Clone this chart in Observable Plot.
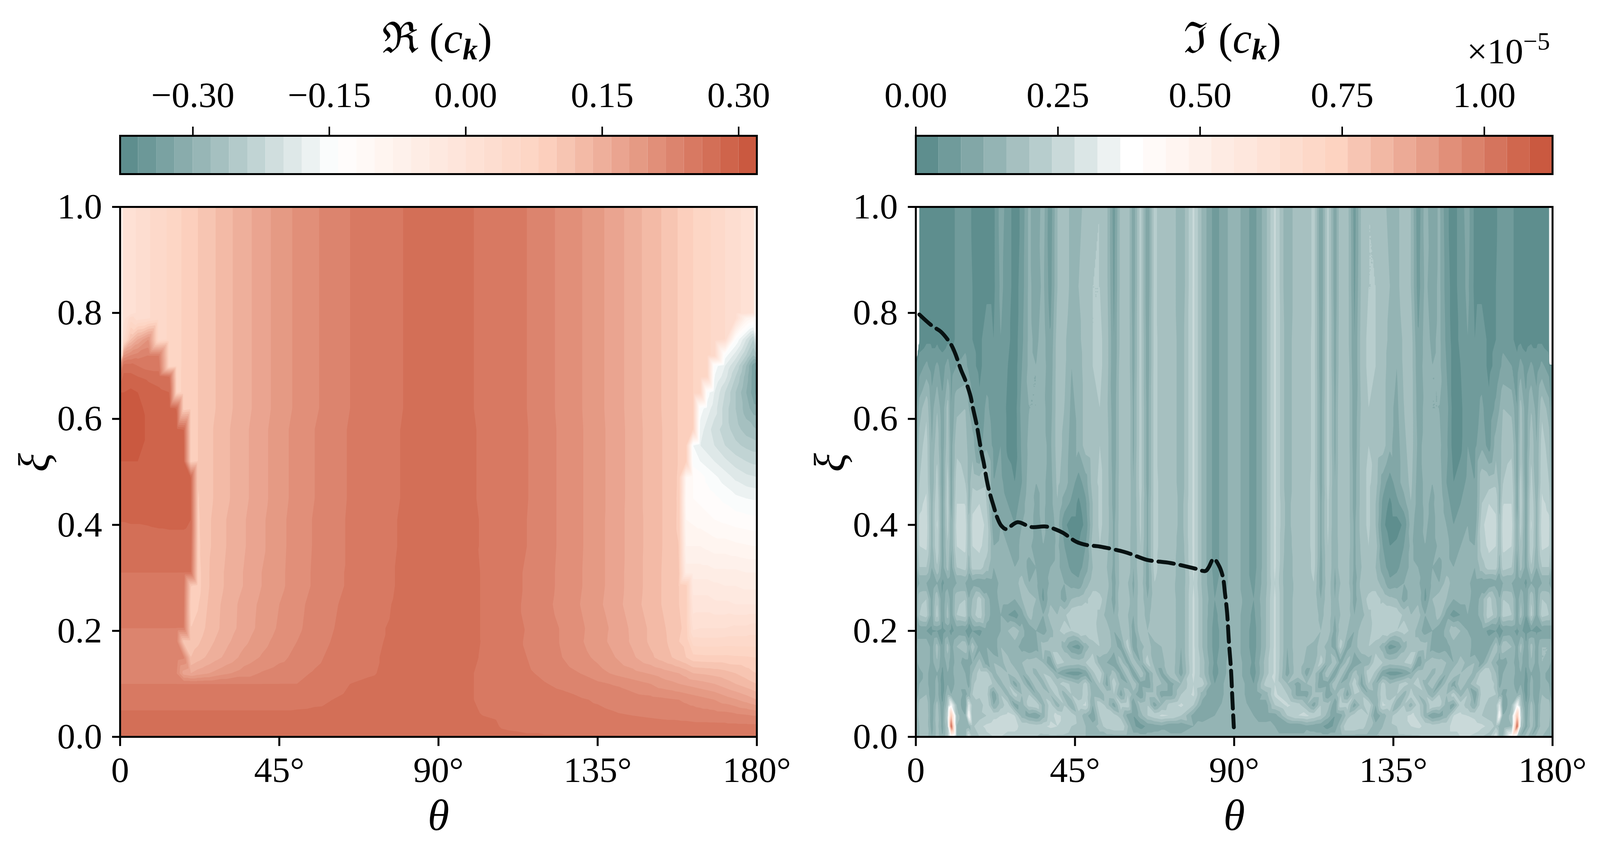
<!DOCTYPE html>
<html>
<head>
<meta charset="utf-8">
<script src="https://cdn.jsdelivr.net/npm/d3@7"></script>
<script src="https://cdn.jsdelivr.net/npm/@observablehq/plot@0.6"></script>
<style>
  body { margin: 0; background: white; }
  /* the browser window comes out 4096 wide, so the layout is fitted to that */
  #page { position: relative; width: 4096px; height: 2216px; overflow: hidden; font-family: "Liberation Serif", serif; color: black; }
  #page svg { position: absolute; top: 0; }
  .lab { position: absolute; line-height: 1; white-space: nowrap; }
  .mid { transform: translateX(-50%); }
  .lab sub { font-size: 0.7em; line-height: 0; vertical-align: -0.22em; }
  .lab sup { font-size: 0.7em; line-height: 0; vertical-align: 0.55em; }
</style>
</head>
<body>
<div id="page">
  <div class="lab mid" style="left:1119px;top:43px;font-size:110px">ℜ (<i>c</i><sub><b><i>k</i></b></sub>)</div>
  <div class="lab mid" style="left:3155px;top:43px;font-size:110px">ℑ (<i>c</i><sub><b><i>k</i></b></sub>)</div>
  <div class="lab" style="right:128px;top:85px;font-size:92px">×10<sup>−5</sup></div>
</div>
<script>
// colorbar levels, in hundredths (imag part: hundredths of 1e-5)
const realLevels = [-38,-36,-34,-32,-30,-28,-26,-24,-22,-20,-18,-16,-14,-12,-10,-8,-6,-4,-2,0,2,4,6,8,10,12,14,16,18,20,22,24,26,28,30,32]
const imagLevels = [0,4,8,12,16,20,24,28,32,36,40,44,48,52,56,60,64,68,72,76,80,84,88,92,96,100,104,108,112]
const realTicks = [-30,-15,0,15,30]
const imagTicks = [0,25,50,75,100]
const thetaTicks = [0,45,90,135,180]
const xiTicks = [0,0.2,0.4,0.6,0.8,1]

const realTheta = [0,1,3,5,8,11,14,16,18,20,22,24,27,30,35,40,45,50,55,60,65,70,80,90,100,110,115,120,125,130,135,140,145,150,153,156,158,160,162,164,166,168,171,174,177,179,180]
const realXi = [1,0.8,0.79,0.75,0.72,0.7,0.68,0.65,0.62,0.58,0.55,0.52,0.49,0.45,0.41,0.36,0.31,0.285,0.25,0.205,0.18,0.15,0.12,0.1,0.07,0.04,0.02,0]
const realRows = [
  [-16,1,1,2.4,3.8,5,6.4,7.4,8.3,9.2,10,10.8,12,13.3,15.2,17,18.9,20.4,21.7,22.9,24,24.7,26,27,26,24.6,24,22.7,21.5,20.2,18.6,17,15,13,12,10.8,9.8,9,8,7.2,6.4,5.6,4,2.8,1.2,0.2,-16],
  [-16,1,1,2.4,3.8,5,6.4,7.4,8.3,9.2,10,10.8,12,13.3,15.2,17,18.9,20.4,21.7,22.9,24,24.7,26,27,26,24.6,24,22.7,21.5,20.2,18.6,17,15,13,12,10.8,9.8,9,8,7.2,6.4,5.6,4,2.8,1.2,0.2,-16],
  [-16,1,5,3,3.8,5,6.4,7.4,8.3,9.2,10,10.8,12,13.3,15.2,17,18.9,20.4,21.7,22.9,24,24.7,26,27,26,24.6,24,22.7,21.5,20.2,18.6,17,15,13,12,10.8,9.8,9,8,7.2,6.4,5.6,4,2.8,-8,-10,-16],
  [-16,4,12,16,20,5,6.4,7.4,8.3,9.2,10,10.8,12,13.3,15.2,17,18.9,20.4,21.7,22.9,24,24.7,26,27,26,24.6,24,22.7,21.5,20.2,18.6,17,15,13,12,10.8,9.8,9,8,7.2,6.4,5.6,4,-14,-20,-24,-18],
  [-16,20,22,23,24,24,6.4,7.4,8.3,9.2,10,10.8,12,13.3,15.2,17,18.9,20.4,21.7,22.9,24,24.7,26,27,26,24.6,24,22.7,21.5,20.2,18.6,17,15,13,12,10.8,9.8,9,8,7.2,6.4,5.6,-15,-19,-24,-28,-26],
  [18,27,27,26,25,25,6.4,7.4,8.3,9.2,10,10.8,12,13.3,15.2,17,18.9,20.4,21.7,22.9,24,24.7,26,27,26,24.6,24,22.7,21.5,20.2,18.6,17,15,13,12,10.8,9.8,9,8,7.2,6.4,-15,-18,-22,-28,-33,-34],
  [26,28.5,28.5,28,27.5,27,26,7.5,8.3,9.2,10,10.8,12,13.3,15.2,17,18.9,20.4,21.7,22.9,24,24.7,26,27,26,24.6,24,22.7,21.5,20.2,18.6,17,15,13,12,10.8,9.8,9,8,7.2,6.4,-16,-19,-24,-29,-33,-35],
  [30,30,30.5,30,29,28.5,28,7.5,8.3,9.2,10,10.8,12,13.3,15.2,17,18.9,20.4,21.7,22.9,24,24.7,26,27,26,24.6,24,22.7,21.5,20.2,18.6,17,15,13,12,10.8,9.8,9,8,7.2,-15,-18,-22,-26,-30,-33,-35],
  [31,31,31,30.5,29.5,29,28.5,28,8.3,9.2,10,10.8,12,13.3,15.2,17,18.9,20.4,21.7,22.9,24,24.7,26,27,26,24.6,24,22.7,21.5,20.2,18.6,17,15,13,12,10.8,9.8,9,8,-15,-17,-19,-23,-26,-29,-31,-31],
  [31.5,31.5,31.5,31,29.5,29,29,28.5,28,9,10,11,12.3,13.6,15.5,17.3,19.2,20.7,22,23.1,24.2,24.9,26.1,27,26.1,24.7,24.1,22.8,21.6,20.3,18.7,17.1,15.1,13.1,12.1,10.9,9.8,9,8,-17,-19,-21,-23,-25,-27,-27.5,-28],
  [31,31,31,30.5,29.5,29,29,29,28.5,9,10,11,12.3,13.6,15.5,17.3,19.2,20.7,22,23.1,24.2,24.9,26.1,27,26.1,24.7,24.1,22.8,21.6,20.3,18.7,17.1,15.1,13.1,12.1,10.9,9.8,9,-16,-18,-19,-20,-22,-23.5,-24.5,-25,-25],
  [30,30,30,30,29.5,29,29,29,28.5,9,10,11,12.3,13.6,15.5,17.3,19.2,20.7,22,23.1,24.2,24.9,26.1,27,26.1,24.7,24.1,22.8,21.6,20.3,18.7,17.1,15.1,13.1,12.1,10.9,9.8,9,-15,-16,-17,-18,-19.5,-21,-22,-22.5,-22.5],
  [29.5,29.5,29.5,29.5,29.5,29,29,29,28.5,28,10,11,12.3,13.6,15.5,17.3,19.2,20.7,22,23.1,24.2,24.9,26.1,27,26.1,24.7,24.1,22.8,21.6,20.3,18.7,17.1,15.1,13.1,12.1,10.9,9.6,-10,-12,-13,-14.5,-15.5,-17,-18.5,-19.5,-19.8,-20],
  [29,29,29,29,29,29,28.5,28.5,28.5,28,9.8,11,12.3,13.6,15.5,17.3,19.2,20.7,22,23.1,24.2,24.9,26.1,27,26.1,24.7,24.1,22.8,21.6,20.3,18.7,17.1,15.1,13.1,12.1,10.9,9.5,-11,-12,-12.5,-13,-13.5,-14.5,-15.5,-16,-16.2,-16.2],
  [28.1,28.1,28.2,28.2,28.3,28.4,28.5,28.5,28.5,28,9.6,11.2,12.6,14,15.8,17.6,19.4,20.9,22.2,23.2,24.3,25,26.2,27,26.2,24.8,24,22.8,21.6,20.3,18.7,17,15.1,13.2,12.1,11,9.4,-10,-10.5,-11,-11.5,-12,-12.5,-13,-13.3,-13.5,-13.5],
  [27,27,27,27,27,27.2,27.2,27.2,27.2,27,9.4,11.2,12.6,14,15.8,17.6,19.4,20.9,22.2,23.2,24.3,25,26.2,27,26.2,24.8,24,22.8,21.6,20.3,18.7,17,15.1,13.2,12.1,11,10,-8,-8,-8,-8.5,-9,-9,-9.5,-9.8,-10,-10],
  [26,26,26,26,26,26,26,26,26,26,9,11.3,13,14.3,16.1,18,19.5,21,22.3,23.4,24.3,25,26.3,27,26.3,24.6,23.8,22.7,21.5,20.2,18.7,17,15,13.2,12,11,10.2,-5,-5,-5,-5,-5.5,-5.5,-5.5,-6,-6,-6],
  [25.5,25.5,25.5,25.5,25.5,25.5,25.5,25.5,25,10,9,11.3,13,14.3,16.1,18,19.5,21,22.3,23.4,24.3,25,26.3,27,26.3,24.6,23.8,22.7,21.5,20.2,18.7,17,15,13.2,12,11,10,9,-3,-3,-3,-3.5,-4,-4,-4.5,-4.5,-4.5],
  [25,25,25,25,25,25,25,25,24.5,9,9.8,11.6,13.3,14.8,16.7,18.5,20,21.4,22.7,23.7,24.6,25.2,26.4,27,26.3,24.6,23.7,22.6,21.3,20,18.5,16.8,14.9,13,12,10.8,10,9,-1,-1,-1,-1.5,-1.5,-2,-2,-2,-2],
  [24,24,24,24,24,24,24,24,24,10,10.6,12,13.5,14.9,16.8,18.7,20.3,21.6,22.9,23.9,24.8,25.5,26.5,27,26.3,24.6,23.9,22.9,21.8,20.4,19,17.4,15.5,13.6,12.5,11.3,10.6,9,1.5,2,2,2,2,2.5,2.5,3,3],
  [23.5,23.5,23.5,23.5,23.5,23.5,23.5,23,10.5,11,11.6,12.8,14.2,15.5,17.5,19.3,20.8,22,23.2,24.1,25,25.6,26.5,27,26.3,24.7,23.8,22.9,21.8,20.3,18.8,17.3,15.6,13.6,12.7,11.4,10,9.5,5,4.8,4.8,4.8,5,5,5,5,5],
  [23,23,23,23,23,23,23,23,22.5,12,13,14,15.3,16.5,18.7,20.2,21.4,22.6,23.5,24.5,25.2,25.7,26.6,27,26.2,24.7,24,23,22,20.8,19.5,18,16.3,14.4,13.2,12,11,10,8.7,8.6,8.5,8.5,8.5,8.3,8.2,8,8],
  [23,23,23,23,23,23,23,22,17,16,17,17.6,18.6,19.6,21,22.2,23,23.5,24.2,24.9,25.3,25.8,26.6,27,26,24.8,24.3,23.6,22.8,22,20.8,19.6,18.7,17.8,17.2,16.5,16,15.2,14,13.8,13.6,13.3,12.8,12,11,10.2,10],
  [24,24,24,24,24,24,24,24,24,24,24,24,24,24,24,24,24,24,24.5,25.5,26,26.3,26.8,27,26,25,24.6,24.1,23.6,23,22.4,21.8,20.9,20,19,18.5,18,17.6,17.2,16.8,16.4,16,15,14,13,12.3,12],
  [25,25,25,25,25,25,25,25,25,25,25,25,25,25,25,25,25,25.2,25.5,26,26.3,26.5,26.9,27,26,25.5,25.2,24.9,24.6,24.2,23.8,23.4,23,22.7,22.5,22.2,22,21.6,21.2,20.8,20.4,20,19,18.2,17.2,16.4,16],
  [26.5,26.5,26.5,26.5,26.5,26.5,26.5,26.5,26.5,26.5,26.5,26.5,26.5,26.5,26.5,26.5,26.5,26.5,26.6,26.7,26.8,26.9,27,27,26.1,25.7,25.5,25.2,25,24.7,24.5,24.2,24,23.8,23.7,23.6,23.5,23.4,23.3,23.2,23.2,23.1,23,22.6,22.3,22,22],
  [27,27,27,27,27,27,27,27,27,27,27,27,27,27,27,27,27,27,27,27,27,27,27,27,26.5,25.8,25.6,25.3,25.2,25,24.9,24.8,24.7,24.7,24.6,24.6,24.6,24.6,24.5,24.5,24.5,24.5,24.5,24.5,24.5,24.5,24.5],
  [27,27,27,27,27,27,27,27,27,27,27,27,27,27,27,27,27,27,27,27,27,27,27,27,26.7,26.3,26.2,26.2,26.2,26.2,26.2,26.2,26.2,26.2,26.2,26.2,26.2,26.2,26.2,26.2,26.2,26.2,26.2,26.2,26.2,26.2,26.2]
]

// imaginary part
const imagTheta = [0,1,3,4.5,6,7.5,9,10,11.5,14,15,16,18,20,22,24,26,28,30,32,34,36,38,40,42,44,46,48,50,52,54,56,58,60,61.5,63.5,65.5,67.5,69.5,72,75,78.5,81,84.5,87,90,93,95.5,99,101.5,105,108,110.5,112.5,114.5,116.5,118.5,120,122,124,126,128,130,132,134,136,138,140,142,144,146,148,150,152,154,156,158,160,162,164,165,166,168.5,170,171,172.5,174,175.5,177,179,180]
const imagXi = [1,0.85,0.75,0.7,0.62,0.55,0.48,0.44,0.4,0.36,0.32,0.29,0.26,0.23,0.2,0.17,0.14,0.12,0.1,0.08,0.06,0.04,0.02,0]
const imagRows = [
  [-100,2,2,2,2,2,2,2,5,6,6,3,2,2,3,10,6,2,5,13,9,14,5,16,18,15,15,17,19,20,17,6,18,19,9,22,8,22,16,20,12,25,15,6,10,15,10,6,15,25,12,20,16,22,8,22,9,19,18,6,17,20,19,17,15,15,18,16,5,14,9,13,5,2,6,10,3,2,2,3,6,6,5,2,2,2,2,2,2,2,-100],
  [-100,2,2,2,2,2,2,2,5,6,6,4,2,3,3,9,6,2,6,13,10,13,6,16,18,15,16,18,20,20,17,7,18,19,9,22,8,22,16,20,12,25,15,6,10,15,10,6,15,25,12,20,16,22,8,22,9,19,18,7,17,20,20,18,16,15,18,16,6,13,10,13,6,2,6,9,3,3,2,4,6,6,5,2,2,2,2,2,2,2,-100],
  [-100,2,3,3,3,2,3,2,5,7,6,4,3,6,4,8,5,2,7,13,11,14,8,18,17,13,15,18,20,21,18,8,18,19,10,22,9,22,17,20,13,25,15,6,10,15,10,6,15,25,13,20,17,22,9,22,10,19,18,8,18,21,20,18,15,13,17,18,8,14,11,13,7,2,5,8,4,6,3,4,6,7,5,2,3,2,3,3,3,2,-100],
  [4,6,9,6,9,6,10,6,8,9,7,5,3,6,5,7,4,2,8,13,12,14,9,18,17,12,14,18,20,21,18,8,19,19,10,22,9,22,17,20,13,25,15,6,10,15,10,6,15,25,13,20,17,22,9,22,10,19,19,8,18,21,20,18,14,12,17,18,9,14,12,13,8,2,4,7,5,6,3,5,7,9,8,6,10,6,9,6,9,6,4],
  [6,14,19,10,16,9,18,8,15,16,12,9,5,9,6,7,3,2,10,12,12,13,10,18,16,11,13,18,19,20,17,9,19,20,11,22,10,22,17,20,13,25,15,6,10,15,10,6,15,25,13,20,17,22,10,22,11,20,19,9,17,20,19,18,13,11,16,18,10,13,12,12,10,2,3,7,6,9,5,9,12,16,15,8,18,9,16,10,19,14,6],
  [8,18,22,12,19,9,19,10,19,18,14,14,6,11,7,8,3,2,9,13,12,13,11,18,15,10,13,18,19,20,18,9,19,20,11,22,10,22,17,20,13,25,15,6,10,15,10,6,15,25,13,20,17,22,10,22,11,20,19,9,18,20,19,18,13,10,15,18,11,13,12,13,9,2,3,8,7,11,6,14,14,18,19,10,19,9,19,12,22,18,8],
  [10,20,23,12,22,9,22,10,22,20,14,19,18,19,8,9,6,4,8,14,12,13,10,17,14,10,6,10,18,21,18,10,19,20,12,22,10,22,18,20,13,25,15,6,10,15,10,6,15,25,13,20,18,22,10,22,12,20,19,10,18,21,18,10,6,10,14,17,10,13,12,14,8,4,6,9,8,19,18,19,14,20,22,10,22,9,22,12,23,20,10],
  [12,23,25,14,24,10,23,10,24,24,14,23,24,20,8,10,8,6,10,15,11,13,10,16,10,7,3,7,16,21,18,10,19,20,12,21,11,22,18,20,14,25,15,6,10,15,10,6,15,25,14,20,18,22,11,21,12,20,19,10,18,21,16,7,3,7,10,16,10,13,11,15,10,6,8,10,8,20,24,23,14,24,24,10,23,10,24,14,25,23,12],
  [12,25,26,14,25,10,22,12,25,26,16,25,26,23,9,12,10,8,12,15,10,13,9,14,5,2,2,5,16,21,18,11,19,20,12,21,11,22,18,20,14,25,15,6,10,15,10,6,15,25,14,20,18,22,11,21,12,20,19,11,18,21,16,5,2,2,5,14,9,13,10,15,12,8,10,12,9,23,26,25,16,26,25,12,22,10,25,14,26,25,12],
  [12,24,25,14,24,10,20,12,24,25,16,24,25,22,12,13,12,9,14,13,10,12,10,13,8,5,4,8,18,20,17,11,19,19,12,20,11,22,18,20,13,25,15,6,10,15,10,6,15,25,13,20,18,22,11,20,12,19,19,11,17,20,18,8,4,5,8,13,10,12,10,13,14,9,12,13,12,22,25,24,16,25,24,12,20,10,24,14,25,24,12],
  [10,20,20,12,20,10,18,10,20,22,14,22,22,18,12,14,14,12,14,11,12,10,12,13,10,7,6,10,16,19,16,11,18,19,12,20,10,22,17,20,12,25,15,6,10,15,10,6,15,25,12,20,17,22,10,20,12,19,18,11,16,19,16,10,6,7,10,13,12,10,12,11,14,12,14,14,12,18,22,22,14,22,20,10,18,10,20,12,20,20,10],
  [8,12,12,8,12,7,10,8,12,12,8,10,8,9,10,13,15,14,18,12,13,8,13,14,12,10,9,14,18,16,18,10,18,16,11,19,10,20,16,19,12,24,15,7,10,15,10,7,15,24,12,19,16,20,10,19,11,16,18,10,18,16,18,14,9,10,12,14,13,8,13,12,18,14,15,13,10,9,8,10,8,12,12,8,10,7,12,8,12,12,8],
  [10,19,20,10,20,8,16,9,19,20,12,16,22,14,9,14,14,12,16,19,16,7,15,14,10,16,17,19,22,22,16,10,20,18,12,19,12,19,16,20,12,25,16,8,11,15,11,8,16,25,12,20,16,19,12,19,12,18,20,10,16,22,22,19,17,16,10,14,15,7,16,19,16,12,14,14,9,14,22,16,12,20,19,9,16,8,20,10,20,19,10],
  [10,20,22,10,22,8,18,9,20,22,12,18,23,14,10,12,8,6,10,18,14,12,18,16,19,23,24,24,22,19,14,12,19,16,12,19,14,20,16,20,12,25,16,7,10,15,10,7,16,25,12,20,16,20,14,19,12,16,19,12,14,19,22,24,24,23,19,16,18,12,14,18,10,6,8,12,10,14,23,18,12,22,20,9,18,8,22,10,22,20,10],
  [8,8,8,7,8,6,9,7,9,8,4,8,7,10,8,12,16,19,14,8,12,10,14,19,22,20,23,22,23,18,19,12,16,18,10,19,16,20,16,20,12,25,16,6,10,15,10,6,16,25,12,20,16,20,16,19,10,18,16,12,19,18,23,22,23,20,22,19,14,10,12,8,14,19,16,12,8,10,7,8,4,8,9,7,9,6,8,7,8,8,8],
  [10,16,16,10,18,8,18,10,16,20,12,19,10,12,8,16,12,14,10,8,10,18,19,19,14,8,6,14,18,20,19,14,10,22,10,14,18,14,16,20,12,25,16,6,10,15,10,6,16,25,12,20,16,14,18,14,10,22,10,14,19,20,18,14,6,8,14,19,19,18,10,8,10,14,12,16,8,12,10,19,12,20,16,10,18,8,18,10,16,16,10],
  [10,14,16,10,16,8,14,9,14,10,10,12,18,10,16,14,19,12,16,18,19,16,8,22,20,19,18,20,23,14,12,8,18,10,19,12,22,14,14,20,11,25,18,7,11,15,11,7,18,25,11,20,14,14,22,12,19,10,18,8,12,14,23,20,18,19,20,22,8,16,19,18,16,12,19,14,16,10,18,12,10,10,14,9,14,8,16,10,16,14,10],
  [8,10,14,8,12,7,12,9,16,12,10,16,22,22,14,19,16,20,12,19,14,20,19,12,8,6,6,9,19,23,12,18,10,20,8,20,10,18,10,20,10,25,18,6,11,15,11,6,18,25,10,20,10,18,10,20,8,20,10,18,12,23,19,9,6,6,8,12,19,20,14,19,12,20,16,19,14,22,22,16,10,12,16,9,12,7,12,8,14,10,8],
  [6,12,14,8,14,6,12,9,14,14,10,19,23,24,19,14,20,10,18,10,20,14,22,19,22,19,16,22,12,20,10,23,14,12,20,10,8,18,16,10,16,24,22,8,12,15,12,8,22,24,16,10,16,18,8,10,20,12,14,23,10,20,12,22,16,19,22,19,22,14,20,10,18,10,20,14,19,24,23,19,10,14,14,9,12,6,14,8,14,12,6],
  [8,14,16,8,14,6,16,12,16,10,14,20,22,22,8,20,14,22,16,20,12,19,16,22,14,20,16,23,14,12,19,20,10,20,14,8,18,18,10,10,20,25,14,8,12,15,12,8,14,25,20,10,10,18,18,8,14,20,10,20,19,12,14,23,16,20,14,22,16,19,12,20,16,22,14,20,8,22,22,20,14,10,16,12,16,6,14,8,16,14,8],
  [10,18,19,9,18,8,19,36,16,8,30,18,16,24,12,18,22,10,14,22,24,14,22,14,20,12,23,25,12,24,18,10,22,23,8,18,20,10,16,22,25,20,10,10,13,15,13,10,10,20,25,22,16,10,20,18,8,23,22,10,18,24,12,25,23,12,20,14,22,14,24,22,14,10,22,18,12,24,16,18,30,8,16,36,19,8,18,9,19,18,10],
  [10,19,20,9,19,9,23,80,18,12,38,16,18,20,23,24,25,24,14,10,8,14,23,25,23,23,18,14,8,20,24,22,18,10,8,14,20,23,25,24,20,10,9,12,14,15,14,12,9,10,20,24,25,23,20,14,8,10,18,22,24,20,8,14,18,23,23,25,23,14,8,10,14,24,25,24,23,20,18,16,38,12,18,80,23,9,19,9,20,19,10],
  [12,16,19,10,18,10,20,108,16,12,14,19,23,25,26,26,25,25,23,23,22,23,25,24,23,20,19,16,14,18,22,24,24,16,9,6,9,10,11,8,8,12,14,14,15,15,15,14,14,12,8,8,11,10,9,6,9,16,24,24,22,18,14,16,19,20,23,24,25,23,22,23,23,25,25,26,26,25,23,19,14,12,16,108,20,10,18,10,19,16,12],
  [14,16,18,12,18,12,20,40,16,14,28,18,20,23,24,24,23,23,22,22,20,19,19,19,19,18,16,16,14,14,14,14,14,14,14,14,14,14,14,14,14,14,14,14,15,15,15,14,14,14,14,14,14,14,14,14,14,14,14,14,14,14,16,16,18,19,19,19,19,20,22,22,23,23,24,24,23,20,18,28,14,16,40,20,12,18,12,18,16,14,14]
]

// dashed curve in the right panel
const lineTheta = [1,4.7,7,9.9,11.1,12.8,14,15.5,16,17.2,17.7,18.6,19.2,20.1,20.7,22.1,23,24.1,25.5,26.5,28.8,32.6,36.7,39.3,41.6,45.4,48.3,52.1,58.9,61.2,65.3,72,78.7,81.9,82.8,84.2,85.7,86.8,87.4,88,88.5,89.1,89.5,89.9]
const lineXi = [0.797,0.775,0.765,0.741,0.724,0.692,0.673,0.642,0.625,0.589,0.57,0.536,0.517,0.483,0.465,0.433,0.414,0.399,0.392,0.396,0.405,0.396,0.397,0.392,0.385,0.368,0.362,0.359,0.349,0.344,0.334,0.328,0.318,0.313,0.32,0.336,0.323,0.302,0.271,0.234,0.18,0.127,0.07,0.018]

const colorStops = d3.scaleLinear().domain([0, 1/3, 2/3, 1]).range(['#5e8e8e', '#ffffff', '#fdd3c1', '#ca5940'])
const bandColors = levels => levels.slice(1).map((d, i) => colorStops(i / (levels.length - 2)))
const colorScale = levels => ({type: 'threshold', domain: levels.slice(1, -1), range: bandColors(levels)})

const serif = {fontFamily: 'Liberation Serif', fontSize: '92px', background: 'transparent', overflow: 'visible'}
const page = document.getElementById('page')

function gridPoints(xs, ys, rows) {
  const pts = []
  rows.forEach((row, j) => row.forEach((v, i) => {
    if (i < xs.length && Number.isFinite(v)) pts.push({theta: xs[i], xi: ys[j], v})
  }))
  return pts
}

function colorbar(left, marginLeft, marginRight, levels, ticks) {
  const chart = Plot.plot({
    width: 2048,
    height: 470,
    marginLeft,
    marginRight,
    marginTop: 347,
    marginBottom: 25,
    style: serif,
    x: {domain: [levels[0], levels[levels.length - 1]]},
    color: colorScale(levels),
    marks: [
      Plot.rect(levels.slice(0, -1), {x1: d => d, x2: (d, i) => levels[i + 1], fill: d => d}),
      Plot.frame({stroke: 'black', strokeWidth: 5}),
      Plot.axisX({
        anchor: 'top',
        ticks,
        tickFormat: d => d3.format('.2f')(d / 100),
        tickSize: 24,
        tickPadding: 50,
        strokeWidth: 4,
        label: null,
      }),
    ],
  })
  chart.style.left = left + 'px'
  page.append(chart)
}

function panel(left, marginLeft, marginRight, levels, pts, extra) {
  const chart = Plot.plot({
    width: 2048,
    height: 2216,
    marginLeft,
    marginRight,
    marginTop: 529,
    marginBottom: 331,
    style: serif,
    x: {domain: [0, 180]},
    y: {domain: [0, 1]},
    color: colorScale(levels),
    marks: [
      Plot.contour(pts, {x: 'theta', y: 'xi', fill: 'v', interpolate: 'barycentric', thresholds: levels, pixelSize: 2}),
      ...extra,
      Plot.frame({stroke: 'black', strokeWidth: 5}),
      Plot.axisX({
        ticks: thetaTicks,
        tickFormat: d => (d ? d + '°' : '0'),
        tickSize: 24,
        tickPadding: 26,
        strokeWidth: 5,
        label: null,
      }),
      Plot.axisY({
        ticks: xiTicks,
        tickFormat: d3.format('.1f'),
        tickSize: 20,
        tickPadding: 26,
        strokeWidth: 5,
        label: null,
      }),
      Plot.text(['θ'], {frameAnchor: 'bottom', dy: 238, fontStyle: 'italic', fontSize: 112}),
      Plot.text(['ξ'], {frameAnchor: 'left', dx: -218, rotate: -90, fontStyle: 'italic', fontSize: 112}),
    ],
  })
  chart.style.left = left + 'px'
  page.append(chart)
}

colorbar(0, 307, 111, realLevels, realTicks)
colorbar(2048, 296, 122, imagLevels, imagTicks)

panel(0, 307, 111, realLevels, gridPoints(realTheta, realXi, realRows), [])
panel(2048, 296, 122, imagLevels, gridPoints(imagTheta, imagXi, imagRows), [
  Plot.line(lineTheta.map((t, i) => [t, lineXi[i]]), {
    x: d => d[0],
    y: d => d[1],
    stroke: '#081212',
    strokeWidth: 10,
    strokeDasharray: '40,17',
    curve: 'catmull-rom',
  }),
])
</script>
</body>
</html>
